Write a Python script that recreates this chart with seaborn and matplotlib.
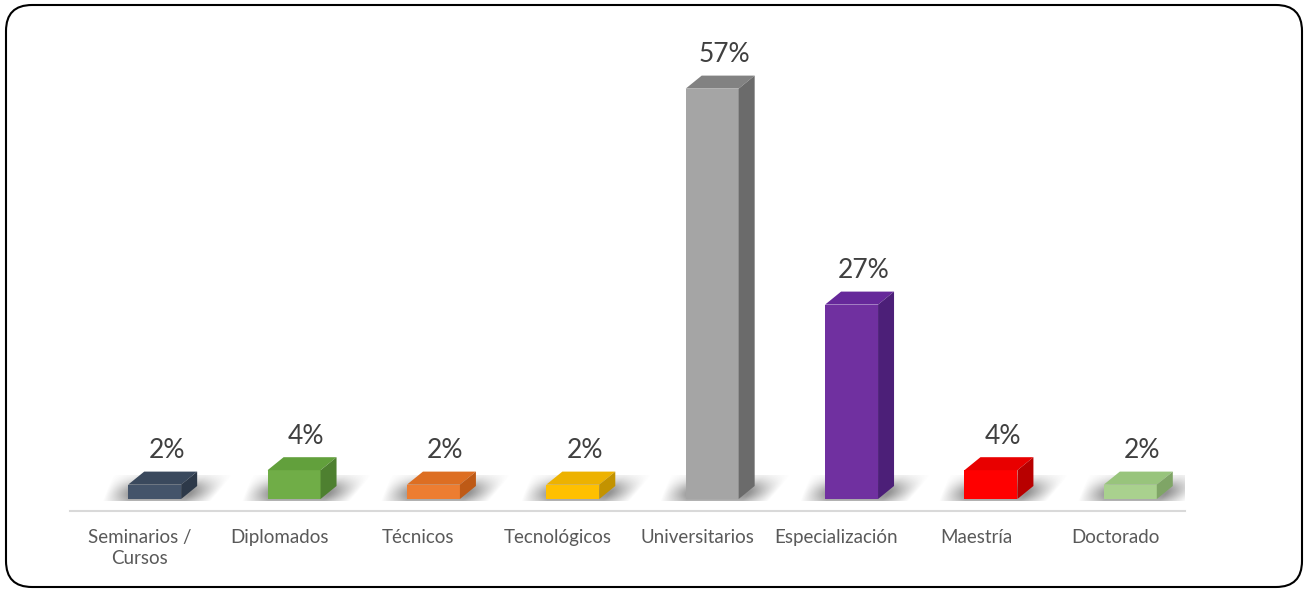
import numpy as np
import pandas as pd
import matplotlib
matplotlib.use("Agg")
import matplotlib.pyplot as plt
import seaborn as sns
from matplotlib.patches import Polygon, FancyBboxPatch
from matplotlib.transforms import IdentityTransform

# Data
categories = ["Seminarios /\nCursos", "Diplomados", "Técnicos", "Tecnológicos",
              "Universitarios", "Especialización", "Maestría", "Doctorado"]
values = [2, 4, 2, 2, 57, 27, 4, 2]
value_labels = [f"{v}%" for v in values]

front_colors = ["#44546A", "#70AD47", "#ED7D31", "#FFC000",
                "#A5A5A5", "#7030A0", "#FF0000", "#A9D18E"]
top_colors = ["#3A495D", "#62A03C", "#DD6E22", "#EDB200",
              "#828282", "#66289A", "#E80000", "#98C47C"]
side_colors = ["#2D3949", "#4E8030", "#BE5A16", "#C39300",
               "#6B6B6B", "#4C1F78", "#B80000", "#7FA566"]

sns.set_style("white")
plt.rcParams['font.family'] = ['Lato', 'DejaVu Sans']

W, H = 1308, 590
fig = plt.figure(figsize=(W / 100, H / 100), dpi=100)
fig.patch.set_facecolor("white")

# axes: x spine at y=511px, top at 30px
ax = fig.add_axes([70 / W, (H - 511) / H, 1115 / W, (511 - 30) / H])

df = pd.DataFrame({"cat": categories, "val": values})
sns.barplot(data=df, x="cat", y="val", hue="cat", palette=front_colors,
            saturation=1, width=0.38, legend=False, ax=ax, zorder=3)

px_per_pct = 7.2
ax.set_xlim(-0.5, len(categories) - 0.5)
ax.set_ylim(-12 / px_per_pct, (499 - 30) / px_per_pct)

# pixel -> data scale
p0 = ax.transData.transform((0, 0))
p1 = ax.transData.transform((1, 1))
sx, sy = p1[0] - p0[0], p1[1] - p0[1]
shift = 15 / sx      # perspective shift of front face to the right
dx = 16 / sx         # depth to the right
dy = 13 / sy         # depth upwards

# slanted soft floor shadow (pixel grid, relative to bar centre)
sh_x = np.linspace(-90, 100, 380)
sh_t = np.linspace(0, 1, 60)
SX, ST = np.meshgrid(sh_x, sh_t)
sh_center = 2 + 16 * ST
sh_half = 54 + 6 * ST
sh_alpha = np.clip((sh_half - np.abs(SX - sh_center)) / 26, 0, 1)
sh_alpha *= np.exp(-((ST - 0.3) / 0.5) ** 2) * 0.6
shadow_img = np.zeros(sh_alpha.shape + (4,))
shadow_img[..., :3] = 0.3
shadow_img[..., 3] = sh_alpha

for i, bar in enumerate(ax.patches):
    bar.set_x(bar.get_x() + shift)
    bar.set_edgecolor("none")
    x0 = bar.get_x()
    x1 = x0 + bar.get_width()
    h = bar.get_height()
    cx = (x0 + x1) / 2

    ax.imshow(shadow_img, extent=(cx - 90 / sx, cx + 100 / sx, -2 / sy, 24 / sy),
              origin="lower", aspect="auto", zorder=1, interpolation="bilinear")

    top = Polygon([(x0, h), (x1, h), (x1 + dx, h + dy), (x0 + dx, h + dy)],
                  closed=True, facecolor=top_colors[i], edgecolor="none", zorder=3)
    side = Polygon([(x1, 0), (x1 + dx, dy), (x1 + dx, h + dy), (x1, h)],
                   closed=True, facecolor=side_colors[i], edgecolor="none", zorder=3)
    ax.add_patch(top)
    ax.add_patch(side)

    ax.annotate(value_labels[i], xy=(cx + 12 / sx, h + dy),
                xytext=(0, 6), textcoords="offset points",
                ha="center", va="bottom", fontsize=19, color="#404040")

ax.set_xlim(-0.5, len(categories) - 0.5)
ax.set_ylim(-12 / px_per_pct, (499 - 30) / px_per_pct)

sns.despine(ax=ax, left=True, top=True, right=True)
ax.spines["bottom"].set_color("#D9D9D9")
ax.spines["bottom"].set_linewidth(1.5)
ax.set_yticks([])
ax.set_xlabel("")
ax.set_ylabel("")
ax.tick_params(axis="x", length=0, pad=13, labelsize=13.5, labelcolor="#595959")
for lbl in ax.get_xticklabels():
    lbl.set_linespacing(1.25)
ax.set_facecolor("none")

# rounded outer border
border = FancyBboxPatch((6, 3), 1296, 582, boxstyle="round,pad=0,rounding_size=26",
                        transform=IdentityTransform(), facecolor="none",
                        edgecolor="black", linewidth=1.5, zorder=10)
fig.patches.append(border)

fig.savefig("out.png", dpi=100, facecolor="white")
